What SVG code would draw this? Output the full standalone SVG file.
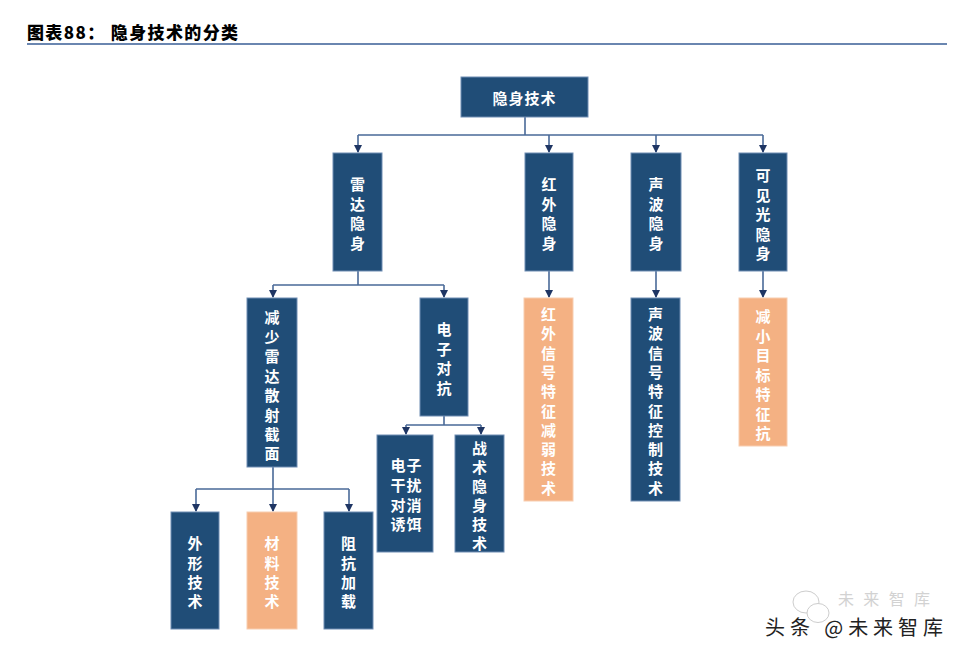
<svg xmlns="http://www.w3.org/2000/svg" width="962" height="655" viewBox="0 0 962 655">
<style>
.b{fill:#204d77;stroke:#6f8db3;stroke-width:1}
.o{fill:#f4b183;stroke:#f8cdb0;stroke-width:1}
.t{fill:#ffffff;font-family:"Noto Sans CJK SC","Noto Sans CJK JP",sans-serif;font-size:15px;font-weight:bold;text-anchor:middle;dominant-baseline:central}
.c{fill:none;stroke:#4a6a98;stroke-width:1.6}
.title{font-family:"Noto Sans CJK SC",sans-serif;font-size:17px;font-weight:900;fill:#000}
</style>
<defs>
<marker id="ah" markerWidth="8" markerHeight="8" refX="7" refY="4" orient="auto" markerUnits="userSpaceOnUse">
<path d="M0,0 L8,4 L0,8 z" fill="#1f3664"/>
</marker>
</defs>
<rect width="962" height="655" fill="#ffffff"/>
<g id="title">
<text class="title" x="27" y="39" textLength="211" lengthAdjust="spacing">图表88：  隐身技术的分类</text>
<rect x="27" y="43" width="920" height="2" fill="#6a86b0"/>
</g>
<g id="connectors">
<path class="c" d="M525,117 V135 M358,135 H763"/>
<path class="c" d="M358,135 V152" marker-end="url(#ah)"/>
<path class="c" d="M549,135 V152" marker-end="url(#ah)"/>
<path class="c" d="M656,135 V152" marker-end="url(#ah)"/>
<path class="c" d="M763,135 V152" marker-end="url(#ah)"/>
<path class="c" d="M358,271 V285 M273,285 H444"/>
<path class="c" d="M273,285 V297" marker-end="url(#ah)"/>
<path class="c" d="M444,285 V297" marker-end="url(#ah)"/>
<path class="c" d="M549,271 V297" marker-end="url(#ah)"/>
<path class="c" d="M656,271 V297" marker-end="url(#ah)"/>
<path class="c" d="M763,271 V297" marker-end="url(#ah)"/>
<path class="c" d="M444,416 V425 M406,425 H481"/>
<path class="c" d="M406,425 V434" marker-end="url(#ah)"/>
<path class="c" d="M481,425 V434" marker-end="url(#ah)"/>
<path class="c" d="M273,467 V489 M196,489 H349"/>
<path class="c" d="M196,489 V511" marker-end="url(#ah)"/>
<path class="c" d="M273,489 V511" marker-end="url(#ah)"/>
<path class="c" d="M349,489 V511" marker-end="url(#ah)"/>
</g>
<g id="root">
<rect class="b" x="461" y="77" width="127" height="40"/>
<text class="t" x="524.5" y="97" letter-spacing="1">隐身技术</text>
</g>
<g id="radar">
<rect class="b" x="333" y="153" width="49" height="118"/>
<text class="t"><tspan x="357.5" y="183">雷</tspan><tspan x="357.5" y="203">达</tspan><tspan x="357.5" y="222">隐</tspan><tspan x="357.5" y="242">身</tspan></text>
</g>
<g id="infrared">
<rect class="b" x="525" y="153" width="48" height="118"/>
<text class="t"><tspan x="549" y="183">红</tspan><tspan x="549" y="203">外</tspan><tspan x="549" y="222">隐</tspan><tspan x="549" y="242">身</tspan></text>
</g>
<g id="acoustic">
<rect class="b" x="631" y="153" width="50" height="118"/>
<text class="t"><tspan x="656" y="183">声</tspan><tspan x="656" y="203">波</tspan><tspan x="656" y="222">隐</tspan><tspan x="656" y="242">身</tspan></text>
</g>
<g id="visible">
<rect class="b" x="739" y="153" width="48" height="118"/>
<text class="t"><tspan x="763" y="174">可</tspan><tspan x="763" y="193.5">见</tspan><tspan x="763" y="213">光</tspan><tspan x="763" y="232.5">隐</tspan><tspan x="763" y="252">身</tspan></text>
</g>
<g id="rcs">
<rect class="b" x="247" y="298" width="50" height="169"/>
<text class="t"><tspan x="272" y="316">减</tspan><tspan x="272" y="335.5">少</tspan><tspan x="272" y="355">雷</tspan><tspan x="272" y="374.5">达</tspan><tspan x="272" y="394">散</tspan><tspan x="272" y="413.5">射</tspan><tspan x="272" y="433">截</tspan><tspan x="272" y="452">面</tspan></text>
</g>
<g id="ecm">
<rect class="b" x="420" y="298" width="48" height="118"/>
<text class="t"><tspan x="444" y="328">电</tspan><tspan x="444" y="347.5">子</tspan><tspan x="444" y="367">对</tspan><tspan x="444" y="386.5">抗</tspan></text>
</g>
<g id="ir-reduce">
<rect class="o" x="524" y="298" width="49" height="203"/>
<text class="t"><tspan x="548.5" y="313">红</tspan><tspan x="548.5" y="332.3">外</tspan><tspan x="548.5" y="351.6">信</tspan><tspan x="548.5" y="370.9">号</tspan><tspan x="548.5" y="390.2">特</tspan><tspan x="548.5" y="409.5">征</tspan><tspan x="548.5" y="428.8">减</tspan><tspan x="548.5" y="448.1">弱</tspan><tspan x="548.5" y="467.4">技</tspan><tspan x="548.5" y="486.7">术</tspan></text>
</g>
<g id="ac-control">
<rect class="b" x="631" y="298" width="49" height="203"/>
<text class="t"><tspan x="655.5" y="313">声</tspan><tspan x="655.5" y="332.3">波</tspan><tspan x="655.5" y="351.6">信</tspan><tspan x="655.5" y="370.9">号</tspan><tspan x="655.5" y="390.2">特</tspan><tspan x="655.5" y="409.5">征</tspan><tspan x="655.5" y="428.8">控</tspan><tspan x="655.5" y="448.1">制</tspan><tspan x="655.5" y="467.4">技</tspan><tspan x="655.5" y="486.7">术</tspan></text>
</g>
<g id="vis-reduce">
<rect class="o" x="739" y="298" width="48" height="148"/>
<text class="t"><tspan x="763" y="315">减</tspan><tspan x="763" y="334.5">小</tspan><tspan x="763" y="354">目</tspan><tspan x="763" y="373.5">标</tspan><tspan x="763" y="393">特</tspan><tspan x="763" y="412.5">征</tspan><tspan x="763" y="432">抗</tspan></text>
</g>
<g id="jamming">
<rect class="b" x="377" y="435" width="56" height="117"/>
<text class="t"><tspan x="398" y="464">电</tspan><tspan x="414" y="464">子</tspan><tspan x="398" y="484">干</tspan><tspan x="414" y="484">扰</tspan><tspan x="398" y="504">对</tspan><tspan x="414" y="504">消</tspan><tspan x="398" y="523">诱</tspan><tspan x="414" y="523">饵</tspan></text>
</g>
<g id="tactical">
<rect class="b" x="455" y="435" width="49" height="117"/>
<text class="t"><tspan x="479.5" y="447">战</tspan><tspan x="479.5" y="466">术</tspan><tspan x="479.5" y="485">隐</tspan><tspan x="479.5" y="504">身</tspan><tspan x="479.5" y="523">技</tspan><tspan x="479.5" y="542">术</tspan></text>
</g>
<g id="shape">
<rect class="b" x="171" y="512" width="48" height="117"/>
<text class="t"><tspan x="195" y="542">外</tspan><tspan x="195" y="561.5">形</tspan><tspan x="195" y="581">技</tspan><tspan x="195" y="600">术</tspan></text>
</g>
<g id="material">
<rect class="o" x="247" y="512" width="50" height="117"/>
<text class="t"><tspan x="272" y="542">材</tspan><tspan x="272" y="561.5">料</tspan><tspan x="272" y="581">技</tspan><tspan x="272" y="600">术</tspan></text>
</g>
<g id="impedance">
<rect class="b" x="324" y="512" width="49" height="117"/>
<text class="t"><tspan x="348.5" y="542">阻</tspan><tspan x="348.5" y="561.5">抗</tspan><tspan x="348.5" y="581">加</tspan><tspan x="348.5" y="600">载</tspan></text>
</g>
<g id="watermark">
<g fill="#ffffff" stroke="#c8c8c8" stroke-width="1" opacity="0.9">
<ellipse cx="806" cy="602" rx="13" ry="11"/>
<ellipse cx="818" cy="613" rx="11" ry="9.5"/>
</g>
<text x="838" y="605" font-family="Noto Sans CJK SC,sans-serif" font-size="16" fill="#c8c8c8" opacity="0.8" textLength="92" lengthAdjust="spacing">未来智库</text>
<text x="765" y="635" font-family="Noto Sans CJK SC,sans-serif" font-size="20" fill="#222222" textLength="178" lengthAdjust="spacing">头条 @未来智库</text>
</g>
</svg>
